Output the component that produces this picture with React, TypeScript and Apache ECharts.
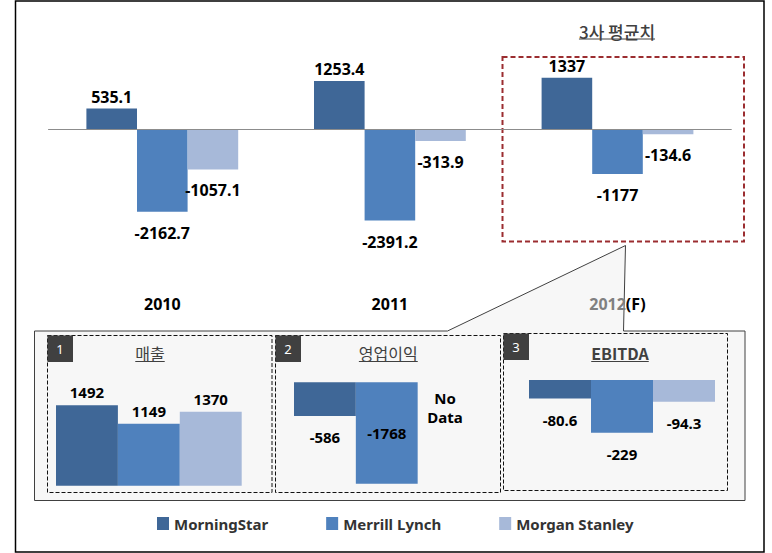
import React, { useEffect, useRef } from "react";
import * as echarts from "echarts";

const years = ["2010", "2011", "2012(F)"];
const mainMorningStar = [535.1, 1253.4, 1337];
const mainMerrillLynch = [-2162.7, -2391.2, -1177];
const mainMorganStanley = [-1057.1, -313.9, -134.6];

// sub charts: [MorningStar, Merrill Lynch, Morgan Stanley]
const salesValues = [1492, 1149, 1370];
const opProfitValues: (number | null)[] = [-586, -1768, null];
const ebitdaValues = [-80.6, -229, -94.3];

const seriesNames = ["MorningStar", "Merrill Lynch", "Morgan Stanley"];
const colors = ["#3F6797", "#4F81BD", "#A7B9D9"];
const subTitles = ["매출", "영업이익", "EBITDA"];
const mainTitle = "3사 평균치";

const NUM_FONT = "'Noto Sans', 'Noto Sans CJK KR', sans-serif";
const KR_FONT = "'Noto Sans CJK KR', 'Noto Sans', sans-serif";

function measure(text: string, font: string): number {
  const c = document.createElement("canvas");
  const ctx = c.getContext("2d");
  if (!ctx) return text.length * 15;
  ctx.font = font;
  return ctx.measureText(text).width;
}

export default function App() {
  const ref = useRef<HTMLDivElement>(null);
  useEffect(() => {
    if (!ref.current) return;
    const chart = echarts.init(ref.current, undefined, { renderer: "svg" });

    const labelBase = {
      show: true,
      fontFamily: NUM_FONT,
      fontWeight: "bold" as const,
      color: "#000",
    };

    const mainData = [mainMorningStar, mainMerrillLynch, mainMorganStanley];
    const mainSeries = mainData.map((d, i) => ({
      name: seriesNames[i],
      type: "bar",
      xAxisIndex: 0,
      yAxisIndex: 0,
      data: d,
      barWidth: 50.6,
      barGap: "0%",
      itemStyle: { color: colors[i] },
      label: {
        ...labelBase,
        fontSize: 16,
        lineHeight: 16,
        position: i === 0 ? "top" : "bottom",
        distance: i === 0 ? 4 : 13,
      },
      z: 3,
    }));

    const subSets = [salesValues, opProfitValues, ebitdaValues];
    const subSeries: any[] = [];
    subSets.forEach((vals, g) => {
      vals.forEach((v, i) => {
        const positive = (v ?? 0) >= 0;
        const inside = g === 1 && i === 1;
        subSeries.push({
          name: seriesNames[i],
          type: "bar",
          xAxisIndex: g + 1,
          yAxisIndex: g + 1,
          data: [
            {
              value: v,
              label: inside ? { position: "inside" } : undefined,
            },
          ],
          barGap: "0%",
          barCategoryGap: "0%",
          itemStyle: { color: colors[i] },
          label: {
            ...labelBase,
            fontSize: 15,
            lineHeight: 16,
            position: positive ? "top" : "bottom",
            distance: positive ? 5 : 13,
          },
          z: 3,
        });
      });
    });

    const titleFont = `16px ${KR_FONT}`;
    const titleBoldFont = `bold 16px ${KR_FONT}`;
    const mainTitleFont = `500 17px ${KR_FONT}`;

    const subTitlePos = [
      { x: 150, y: 352.5 },
      { x: 388.3, y: 352.5 },
      { x: 620, y: 352.5 },
    ];
    const subBoxes = [
      { x: 47.5, y: 335.5, w: 224.5, h: 157 },
      { x: 275.5, y: 335.5, w: 225, h: 157 },
      { x: 503.5, y: 333.5, w: 224, h: 157 },
    ];

    const graphics: any[] = [];
    // outer border
    graphics.push({
      type: "rect",
      shape: { x: 15.5, y: 1, width: 748.5, height: 551 },
      style: { fill: "none", stroke: "#000", lineWidth: 1.5 },
      z: 0,
    });
    // panel with callout wedge
    graphics.push({
      type: "polygon",
      shape: {
        points: [
          [34.5, 331],
          [447.5, 331],
          [625.5, 245.5],
          [623.5, 331],
          [745, 331],
          [745, 500.5],
          [34.5, 500.5],
        ],
      },
      style: { fill: "#F7F7F7", stroke: "#404040", lineWidth: 1 },
      z: 0,
    });
    // red dashed box
    graphics.push({
      type: "rect",
      shape: { x: 502.5, y: 57, width: 241.5, height: 184.5 },
      style: {
        fill: "none",
        stroke: "#9B2D30",
        lineWidth: 2,
        lineDash: [5, 3],
      },
      z: 1,
    });
    // main title with underline
    const mtW = measure(mainTitle, mainTitleFont);
    graphics.push({
      type: "text",
      x: 617,
      y: 31,
      style: {
        text: mainTitle,
        font: mainTitleFont,
        fill: "#404040",
        textAlign: "center",
        textVerticalAlign: "middle",
        align: "center",
        verticalAlign: "middle",
      },
      z: 10,
    });
    graphics.push({
      type: "line",
      shape: { x1: 617 - mtW / 2, y1: 39, x2: 617 + mtW / 2, y2: 39 },
      style: { stroke: "#404040", lineWidth: 1 },
      z: 10,
    });
    subBoxes.forEach((b, g) => {
      graphics.push({
        type: "rect",
        shape: { x: b.x, y: b.y, width: b.w, height: b.h },
        style: {
          fill: "none",
          stroke: "#111",
          lineWidth: 1,
          lineDash: [4, 2],
        },
        z: 1,
      });
      graphics.push({
        type: "rect",
        shape: { x: b.x, y: b.y, width: 25.5, height: 26.5 },
        style: { fill: "#404040" },
        z: 2,
      });
      graphics.push({
        type: "text",
        x: b.x + 12.5,
        y: b.y + 13,
        style: {
          text: String(g + 1),
          font: `13px ${NUM_FONT}`,
          fill: "#fff",
          textAlign: "center",
          textVerticalAlign: "middle",
          align: "center",
          verticalAlign: "middle",
        },
        z: 3,
      });
      const f = g === 2 ? titleBoldFont : titleFont;
      const tw = measure(subTitles[g], f);
      const p = subTitlePos[g];
      graphics.push({
        type: "text",
        x: p.x,
        y: p.y,
        style: {
          text: subTitles[g],
          font: f,
          fill: "#404040",
          textAlign: "center",
          textVerticalAlign: "middle",
          align: "center",
          verticalAlign: "middle",
        },
        z: 10,
      });
      graphics.push({
        type: "line",
        shape: { x1: p.x - tw / 2, y1: 361.5, x2: p.x + tw / 2, y2: 361.5 },
        style: { stroke: "#404040", lineWidth: 1 },
        z: 10,
      });
    });
    // No Data
    graphics.push({
      type: "text",
      x: 445,
      y: 407.5,
      style: {
        text: "No\nData",
        font: `bold 15px ${NUM_FONT}`,
        lineHeight: 19,
        fill: "#000",
        textAlign: "center",
        textVerticalAlign: "middle",
        align: "center",
        verticalAlign: "middle",
      },
      z: 10,
    });

    const hiddenX = (gridIndex: number) => ({
      type: "category",
      gridIndex,
      data: ["v"],
      show: false,
    });
    const hiddenY = (gridIndex: number, min: number, max: number) => ({
      type: "value",
      gridIndex,
      min,
      max,
      show: false,
    });

    chart.setOption({
      animation: false,
      textStyle: { fontFamily: NUM_FONT },
      legend: {
        data: seriesNames,
        left: 157,
        top: 516,
        padding: 0,
        itemWidth: 12,
        itemHeight: 13,
        itemGap: 58,
        icon: "rect",
        textStyle: {
          fontFamily: NUM_FONT,
          fontWeight: "bold",
          fontSize: 15,
          color: "#333",
        },
        selectedMode: false,
      },
      grid: [
        { left: 48.5, width: 682.8, top: 71.55, height: 153.2 },
        { left: 56, width: 185.7, top: 399.3, height: 86.4 },
        { left: 294, width: 185.5, top: 382.3, height: 108.9 },
        { left: 529, width: 186, top: 380, height: 57.5 },
      ],
      xAxis: [
        {
          type: "category",
          gridIndex: 0,
          data: years,
          axisLine: { onZero: true, lineStyle: { color: "#8C8C8C", width: 1 } },
          axisTick: { show: false },
          axisLabel: {
            margin: 71,
            fontFamily: NUM_FONT,
            fontWeight: "bold",
            fontSize: 16,
            color: "#000",
            formatter: (v: string) =>
              v.indexOf("(") > 0
                ? `{g|${v.slice(0, v.indexOf("("))}}{b|${v.slice(v.indexOf("("))}}`
                : v,
            rich: {
              g: { color: "#808080", fontWeight: "bold", fontSize: 16, fontFamily: NUM_FONT },
              b: { color: "#000", fontWeight: "bold", fontSize: 16, fontFamily: NUM_FONT },
            },
          },
          z: 20,
        },
        hiddenX(1),
        hiddenX(2),
        hiddenX(3),
      ],
      yAxis: [
        {
          type: "value",
          gridIndex: 0,
          min: -2500,
          max: 1500,
          show: false,
        },
        hiddenY(1, 0, 1600),
        hiddenY(2, -1900, 0),
        hiddenY(3, -250, 0),
      ],
      graphic: { elements: graphics },
      series: [...mainSeries, ...subSeries],
    });

    return () => chart.dispose();
  }, []);

  return (
    <div
      ref={ref}
      style={{ position: "fixed", left: 0, top: 0, width: 772, height: 553, background: "#fff" }}
    />
  );
}
